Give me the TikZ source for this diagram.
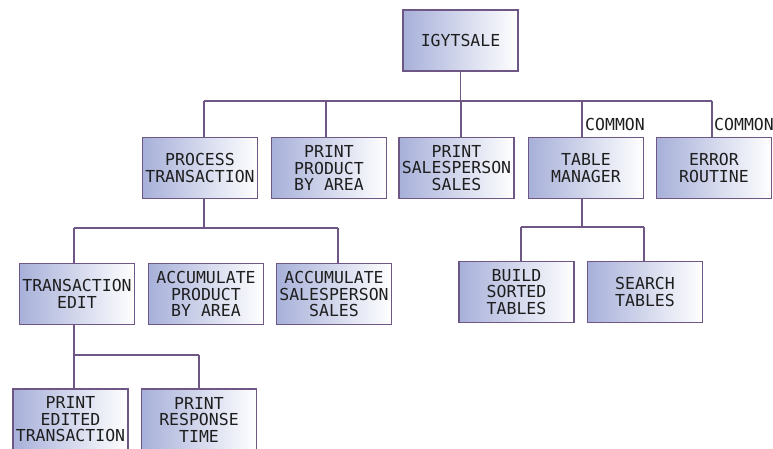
\documentclass[tikz,border=0pt]{standalone}
\usepackage{fontspec}
\newfontfamily\boxfont{DejaVu Sans Mono}
\definecolor{edge}{HTML}{6E5685}
\definecolor{fillblue}{HTML}{A7B0D9}
\definecolor{ink}{HTML}{1E1E1E}
\tikzset{
  box/.style={draw=edge, line width=1.8pt, left color=fillblue, right color=white,
    minimum width=115pt, minimum height=61pt, inner sep=0pt, align=center,
    font=\boxfont\fontsize{16.5}{16.5}\selectfont, text=ink},
  conn/.style={draw=edge, line width=1.6pt},
  tag/.style={anchor=west, inner sep=0pt, font=\boxfont\fontsize{16.5}{16.5}\selectfont, text=ink}
}
\begin{document}
\begin{tikzpicture}[x=1pt,y=-1pt]
\useasboundingbox (0,0) rectangle (773,449);
\clip (0,0) rectangle (773,449);
% nodes
\node[box] (top) at (460.5,40.5) {IGYTSALE};
\node[box] (proc) at (200,168) {PROCESS\\TRANSACTION};
\node[box] (ppa) at (329,168) {PRINT\\PRODUCT\\BY AREA};
\node[box] (pss) at (456.5,168) {PRINT\\SALESPERSON\\SALES};
\node[box] (tm) at (586,168) {TABLE\\MANAGER};
\node[box] (er) at (714,168) {ERROR\\ROUTINE};
\node[box] (te) at (77,294) {TRANSACTION\\EDIT};
\node[box] (apa) at (206,294) {ACCUMULATE\\PRODUCT\\BY AREA};
\node[box] (aps) at (334,294) {ACCUMULATE\\SALESPERSON\\SALES};
\node[box] (bst) at (516.5,292) {BUILD\\SORTED\\TABLES};
\node[box] (st) at (645,292) {SEARCH\\TABLES};
\node[box] (pet) at (70.5,419.5) {PRINT\\EDITED\\TRANSACTION};
\node[box] (prt) at (199,419.5) {PRINT\\RESPONSE\\TIME};
% labels
\node[tag] (c1) at (585,124) {COMMON};
\node[tag] (c2) at (714,124) {COMMON};
% bus 1
\coordinate (b1l) at (204,101);
\coordinate (b1r) at (712,101);
\draw[conn] (b1l) -- (b1r);
\draw[conn] (top.south) -- (top.south |- b1l);
\draw[conn] (proc.north -| b1l) -- (b1l);
\draw[conn] ([xshift=-3pt]ppa.north) -- ([xshift=-3pt]ppa.north |- b1l);
\draw[conn] ([xshift=4.5pt]pss.north) -- ([xshift=4.5pt]pss.north |- b1l);
\draw[conn] ([xshift=-4pt]tm.north) -- ([xshift=-4pt]tm.north |- b1l);
\draw[conn] (er.north -| b1r) -- (b1r);
% bus 2
\coordinate (b2l) at (74,228);
\coordinate (b2r) at (338,228);
\draw[conn] (b2l) -- (b2r);
\draw[conn] ([xshift=4pt]proc.south) -- ([xshift=4pt]proc.south |- b2l);
\draw[conn] (te.north -| b2l) -- (b2l);
\draw[conn] (aps.north -| b2r) -- (b2r);
% bus 3
\coordinate (b3l) at (521,227);
\coordinate (b3r) at (644,227);
\draw[conn] (b3l) -- (b3r);
\draw[conn] ([xshift=-4pt]tm.south) -- ([xshift=-4pt]tm.south |- b3l);
\draw[conn] (bst.north -| b3l) -- (b3l);
\draw[conn] (st.north -| b3r) -- (b3r);
% bus 4
\coordinate (b4l) at (74,355);
\coordinate (b4r) at (199,355);
\draw[conn] (b4l) -- (b4r);
\draw[conn] ([xshift=-3pt]te.south) -- ([xshift=-3pt]te.south |- b4l);
\draw[conn] (pet.north -| b4l) -- (b4l);
\draw[conn] (prt.north -| b4r) -- (b4r);
\end{tikzpicture}
\end{document}
